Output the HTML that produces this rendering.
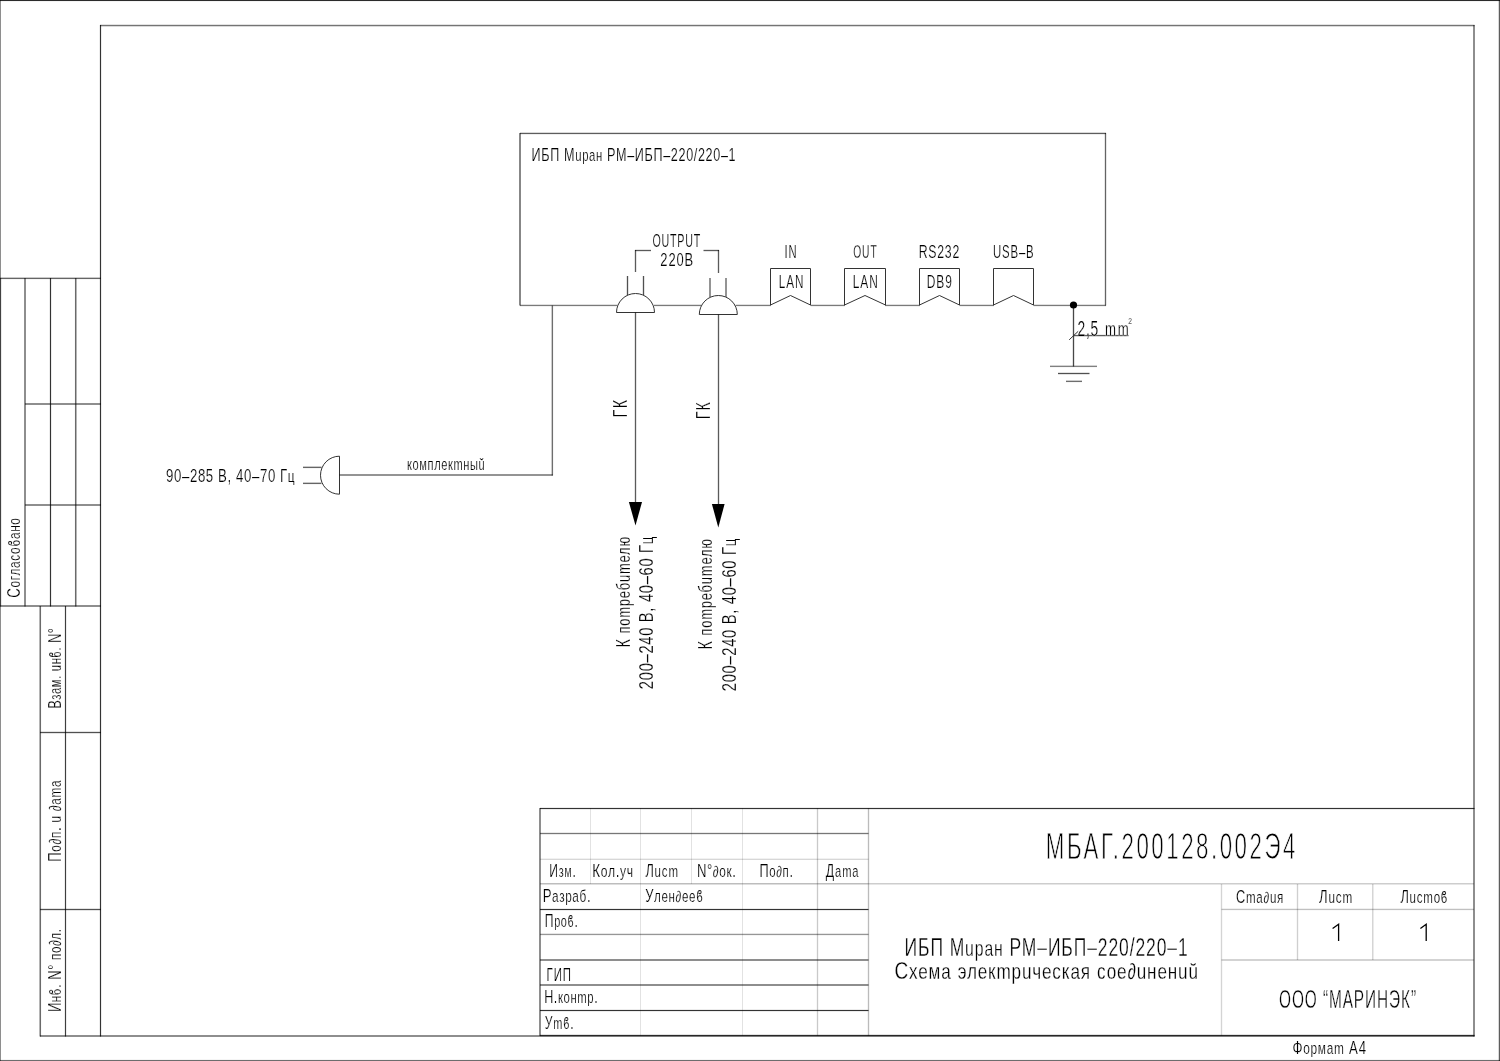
<!DOCTYPE html>
<html><head><meta charset="utf-8"><style>
html,body{margin:0;padding:0;background:#fff;}
svg{display:block;filter:grayscale(1);}
text{font-family:"Liberation Sans",sans-serif;stroke:#fff;}
</style></head><body>
<svg width="1500" height="1061" viewBox="0 0 1500 1061">
<rect x="0" y="0" width="1500" height="1061" fill="#fff"/>
<rect x="0" y="-1" width="1500" height="1" fill="#000" fill-opacity="0.044"/>
<rect x="0" y="0" width="1500" height="1" fill="#000" fill-opacity="0.832"/>
<rect x="0" y="1" width="1500" height="1" fill="#000" fill-opacity="0.044"/>
<rect x="-1" y="0" width="1" height="1061" fill="#000" fill-opacity="0.445"/>
<rect x="0" y="0" width="1" height="1061" fill="#000" fill-opacity="0.445"/>
<rect x="1498" y="0" width="1" height="1061" fill="#000" fill-opacity="0.150"/>
<rect x="1499" y="0" width="1" height="1061" fill="#000" fill-opacity="0.636"/>
<rect x="1500" y="0" width="1" height="1061" fill="#000" fill-opacity="0.065"/>
<rect x="0" y="1059" width="1500" height="1" fill="#000" fill-opacity="0.039"/>
<rect x="0" y="1060" width="1500" height="1" fill="#000" fill-opacity="0.572"/>
<rect x="0" y="1061" width="1500" height="1" fill="#000" fill-opacity="0.039"/>
<rect x="100" y="24" width="1374.5" height="1" fill="#000" fill-opacity="0.108"/>
<rect x="100" y="25" width="1374.5" height="1" fill="#000" fill-opacity="0.544"/>
<rect x="100" y="26" width="1374.5" height="1" fill="#000" fill-opacity="0.147"/>
<rect x="99" y="25" width="1" height="1011.5" fill="#000" fill-opacity="0.076"/>
<rect x="100" y="25" width="1" height="1011.5" fill="#000" fill-opacity="0.799"/>
<rect x="101" y="25" width="1" height="1011.5" fill="#000" fill-opacity="0.076"/>
<rect x="1473" y="25" width="1" height="1011.5" fill="#000" fill-opacity="0.445"/>
<rect x="1474" y="25" width="1" height="1011.5" fill="#000" fill-opacity="0.445"/>
<rect x="40" y="1035" width="1434.5" height="1" fill="#000" fill-opacity="0.445"/>
<rect x="40" y="1036" width="1434.5" height="1" fill="#000" fill-opacity="0.445"/>
<rect x="0" y="277" width="101" height="1" fill="#000" fill-opacity="0.208"/>
<rect x="0" y="278" width="101" height="1" fill="#000" fill-opacity="0.603"/>
<rect x="0" y="279" width="101" height="1" fill="#000" fill-opacity="0.038"/>
<rect x="-1" y="278" width="1" height="328.5" fill="#000" fill-opacity="0.084"/>
<rect x="0" y="278" width="1" height="328.5" fill="#000" fill-opacity="0.533"/>
<rect x="1" y="278" width="1" height="328.5" fill="#000" fill-opacity="0.084"/>
<rect x="24" y="278" width="1" height="328.5" fill="#000" fill-opacity="0.445"/>
<rect x="25" y="278" width="1" height="328.5" fill="#000" fill-opacity="0.445"/>
<rect x="49" y="278" width="1" height="328.5" fill="#000" fill-opacity="0.076"/>
<rect x="50" y="278" width="1" height="328.5" fill="#000" fill-opacity="0.799"/>
<rect x="51" y="278" width="1" height="328.5" fill="#000" fill-opacity="0.076"/>
<rect x="74" y="278" width="1" height="328.5" fill="#000" fill-opacity="0.022"/>
<rect x="75" y="278" width="1" height="328.5" fill="#000" fill-opacity="0.586"/>
<rect x="76" y="278" width="1" height="328.5" fill="#000" fill-opacity="0.291"/>
<rect x="25" y="403" width="76" height="1" fill="#000" fill-opacity="0.445"/>
<rect x="25" y="404" width="76" height="1" fill="#000" fill-opacity="0.445"/>
<rect x="25" y="504" width="76" height="1" fill="#000" fill-opacity="0.445"/>
<rect x="25" y="505" width="76" height="1" fill="#000" fill-opacity="0.445"/>
<rect x="0" y="605" width="101" height="1" fill="#000" fill-opacity="0.445"/>
<rect x="0" y="606" width="101" height="1" fill="#000" fill-opacity="0.445"/>
<rect x="39" y="606" width="1" height="430.5" fill="#000" fill-opacity="0.291"/>
<rect x="40" y="606" width="1" height="430.5" fill="#000" fill-opacity="0.586"/>
<rect x="41" y="606" width="1" height="430.5" fill="#000" fill-opacity="0.022"/>
<rect x="64" y="606" width="1" height="430.5" fill="#000" fill-opacity="0.072"/>
<rect x="65" y="606" width="1" height="430.5" fill="#000" fill-opacity="0.757"/>
<rect x="66" y="606" width="1" height="430.5" fill="#000" fill-opacity="0.072"/>
<rect x="40" y="731" width="61" height="1" fill="#000" fill-opacity="0.108"/>
<rect x="40" y="732" width="61" height="1" fill="#000" fill-opacity="0.685"/>
<rect x="40" y="733" width="61" height="1" fill="#000" fill-opacity="0.108"/>
<rect x="40" y="908" width="61" height="1" fill="#000" fill-opacity="0.108"/>
<rect x="40" y="909" width="61" height="1" fill="#000" fill-opacity="0.685"/>
<rect x="40" y="910" width="61" height="1" fill="#000" fill-opacity="0.108"/>
<text transform="translate(20,597) rotate(-90) translate(-0.67,0) scale(0.7007,1)" x="0" y="0" font-size="18.90" textLength="113.70" lengthAdjust="spacing" fill="#000" stroke-width="0.214">С<tspan font-size="17.01">огласоϐано</tspan></text>
<text transform="translate(61,707.6) rotate(-90) translate(-1.02,0) scale(0.6600,1)" x="0" y="0" font-size="18.90" textLength="121.92" lengthAdjust="spacing" fill="#000" stroke-width="0.227">В<tspan font-size="17.01">зам</tspan>. <tspan font-size="17.01">uнϐ</tspan>. N°</text>
<text transform="translate(60.5,860.7) rotate(-90) translate(-1.07,0) scale(0.6982,1)" x="0" y="0" font-size="18.90" textLength="116.54" lengthAdjust="spacing" fill="#000" stroke-width="0.215">П<tspan font-size="17.01">о∂п</tspan>. <tspan font-size="17.01">u</tspan> <tspan font-size="17.01">∂аmа</tspan></text>
<text transform="translate(61.4,1011) rotate(-90) translate(-1.06,0) scale(0.6857,1)" x="0" y="0" font-size="18.90" textLength="121.40" lengthAdjust="spacing" fill="#000" stroke-width="0.219">И<tspan font-size="17.01">нϐ</tspan>. N° <tspan font-size="17.01">по∂л</tspan>.</text>
<rect x="520" y="132" width="586" height="1" fill="#000" fill-opacity="0.150"/>
<rect x="520" y="133" width="586" height="1" fill="#000" fill-opacity="0.636"/>
<rect x="520" y="134" width="586" height="1" fill="#000" fill-opacity="0.065"/>
<rect x="519" y="133" width="1" height="172.5" fill="#000" fill-opacity="0.469"/>
<rect x="520" y="133" width="1" height="172.5" fill="#000" fill-opacity="0.469"/>
<rect x="1104" y="133" width="1" height="172.5" fill="#000" fill-opacity="0.096"/>
<rect x="1105" y="133" width="1" height="172.5" fill="#000" fill-opacity="0.609"/>
<rect x="1106" y="133" width="1" height="172.5" fill="#000" fill-opacity="0.096"/>
<rect x="520" y="304" width="97.5" height="1" fill="#000" fill-opacity="0.123"/>
<rect x="520" y="305" width="97.5" height="1" fill="#000" fill-opacity="0.523"/>
<rect x="520" y="306" width="97.5" height="1" fill="#000" fill-opacity="0.053"/>
<rect x="653.8" y="304" width="47.200000000000045" height="1" fill="#000" fill-opacity="0.123"/>
<rect x="653.8" y="305" width="47.200000000000045" height="1" fill="#000" fill-opacity="0.523"/>
<rect x="653.8" y="306" width="47.200000000000045" height="1" fill="#000" fill-opacity="0.053"/>
<rect x="735.6" y="304" width="35.39999999999998" height="1" fill="#000" fill-opacity="0.123"/>
<rect x="735.6" y="305" width="35.39999999999998" height="1" fill="#000" fill-opacity="0.523"/>
<rect x="735.6" y="306" width="35.39999999999998" height="1" fill="#000" fill-opacity="0.053"/>
<rect x="810.5" y="304" width="34.5" height="1" fill="#000" fill-opacity="0.123"/>
<rect x="810.5" y="305" width="34.5" height="1" fill="#000" fill-opacity="0.523"/>
<rect x="810.5" y="306" width="34.5" height="1" fill="#000" fill-opacity="0.053"/>
<rect x="885" y="304" width="35" height="1" fill="#000" fill-opacity="0.123"/>
<rect x="885" y="305" width="35" height="1" fill="#000" fill-opacity="0.523"/>
<rect x="885" y="306" width="35" height="1" fill="#000" fill-opacity="0.053"/>
<rect x="959.5" y="304" width="34.5" height="1" fill="#000" fill-opacity="0.123"/>
<rect x="959.5" y="305" width="34.5" height="1" fill="#000" fill-opacity="0.523"/>
<rect x="959.5" y="306" width="34.5" height="1" fill="#000" fill-opacity="0.053"/>
<rect x="1033.5" y="304" width="72.5" height="1" fill="#000" fill-opacity="0.123"/>
<rect x="1033.5" y="305" width="72.5" height="1" fill="#000" fill-opacity="0.523"/>
<rect x="1033.5" y="306" width="72.5" height="1" fill="#000" fill-opacity="0.053"/>
<text transform="translate(531.57,161.4) scale(0.6666,1)" x="0" y="0" font-size="18.90" textLength="306.10" lengthAdjust="spacing" fill="#000" stroke-width="0.225">ИБП М<tspan font-size="17.01">uран</tspan> РМ–ИБП–220/220–1</text>
<rect x="626" y="276" width="1" height="19" fill="#000" fill-opacity="0.108"/>
<rect x="627" y="276" width="1" height="19" fill="#000" fill-opacity="0.685"/>
<rect x="628" y="276" width="1" height="19" fill="#000" fill-opacity="0.108"/>
<rect x="642" y="276" width="1" height="19" fill="#000" fill-opacity="0.108"/>
<rect x="643" y="276" width="1" height="19" fill="#000" fill-opacity="0.685"/>
<rect x="644" y="276" width="1" height="19" fill="#000" fill-opacity="0.108"/>
<path d="M616.5 312.5 A19 19 0 0 1 654.5 312.5 Z" stroke="#333" stroke-width="1" fill="#fff"/>
<rect x="634" y="312.5" width="1" height="190.5" fill="#000" fill-opacity="0.102"/>
<rect x="635" y="312.5" width="1" height="190.5" fill="#000" fill-opacity="0.647"/>
<rect x="636" y="312.5" width="1" height="190.5" fill="#000" fill-opacity="0.102"/>
<rect x="709" y="278" width="1" height="19" fill="#000" fill-opacity="0.420"/>
<rect x="710" y="278" width="1" height="19" fill="#000" fill-opacity="0.420"/>
<rect x="725" y="278" width="1" height="19" fill="#000" fill-opacity="0.420"/>
<rect x="726" y="278" width="1" height="19" fill="#000" fill-opacity="0.420"/>
<path d="M699.3 314.5 A19 19 0 0 1 737.3 314.5 Z" stroke="#333" stroke-width="1" fill="#fff"/>
<rect x="717" y="314.5" width="1" height="190.5" fill="#000" fill-opacity="0.102"/>
<rect x="718" y="314.5" width="1" height="190.5" fill="#000" fill-opacity="0.647"/>
<rect x="719" y="314.5" width="1" height="190.5" fill="#000" fill-opacity="0.102"/>
<rect x="635" y="249" width="16" height="1" fill="#000" fill-opacity="0.102"/>
<rect x="635" y="250" width="16" height="1" fill="#000" fill-opacity="0.647"/>
<rect x="635" y="251" width="16" height="1" fill="#000" fill-opacity="0.102"/>
<rect x="634" y="250" width="1" height="22" fill="#000" fill-opacity="0.102"/>
<rect x="635" y="250" width="1" height="22" fill="#000" fill-opacity="0.647"/>
<rect x="636" y="250" width="1" height="22" fill="#000" fill-opacity="0.102"/>
<rect x="703.5" y="249" width="15.5" height="1" fill="#000" fill-opacity="0.102"/>
<rect x="703.5" y="250" width="15.5" height="1" fill="#000" fill-opacity="0.647"/>
<rect x="703.5" y="251" width="15.5" height="1" fill="#000" fill-opacity="0.102"/>
<rect x="717" y="250" width="1" height="23" fill="#000" fill-opacity="0.102"/>
<rect x="718" y="250" width="1" height="23" fill="#000" fill-opacity="0.647"/>
<rect x="719" y="250" width="1" height="23" fill="#000" fill-opacity="0.102"/>
<text transform="translate(652.49,246.8) scale(0.6136,1)" x="0" y="0" font-size="17.44" textLength="77.83" lengthAdjust="spacing" fill="#000" stroke-width="0.244">OUTPUT</text>
<text transform="translate(660.35,266.0) scale(0.7419,1)" x="0" y="0" font-size="17.44" textLength="44.12" lengthAdjust="spacing" fill="#000" stroke-width="0.202">220В</text>
<polygon points="628.9,502 642,502 635.5,525.5" fill="#000"/>
<polygon points="711.9,504 724.6,504 718.3,527.5" fill="#000"/>
<path d="M770.5 305 L770.5 268.5 L810.5 268.5 L810.5 305 L790.5 295.5 Z" stroke="#333" stroke-width="1" fill="none"/>
<path d="M844.5 305 L844.5 268.5 L885.5 268.5 L885.5 305 L865.0 295.5 Z" stroke="#333" stroke-width="1" fill="none"/>
<path d="M919.5 305 L919.5 268.5 L959.5 268.5 L959.5 305 L939.5 295.5 Z" stroke="#333" stroke-width="1" fill="none"/>
<path d="M993.5 305 L993.5 268.5 L1033.5 268.5 L1033.5 305 L1013.5 295.5 Z" stroke="#333" stroke-width="1" fill="none"/>
<text transform="translate(784.56,258.09999999999997) scale(0.6448,1)" x="0" y="0" font-size="17.44" textLength="18.69" lengthAdjust="spacing" fill="#000" stroke-width="0.233">IN</text>
<text transform="translate(853.22,258.09999999999997) scale(0.5868,1)" x="0" y="0" font-size="17.44" textLength="39.91" lengthAdjust="spacing" fill="#000" stroke-width="0.256">OUT</text>
<text transform="translate(918.69,258.09999999999997) scale(0.7032,1)" x="0" y="0" font-size="17.44" textLength="57.77" lengthAdjust="spacing" fill="#000" stroke-width="0.213">RS232</text>
<text transform="translate(993.12,258.4) scale(0.6532,1)" x="0" y="0" font-size="17.44" textLength="61.97" lengthAdjust="spacing" fill="#000" stroke-width="0.230">USB–B</text>
<text transform="translate(778.74,288.09999999999997) scale(0.6720,1)" x="0" y="0" font-size="17.44" textLength="36.63" lengthAdjust="spacing" fill="#000" stroke-width="0.223">LAN</text>
<text transform="translate(852.72,288.09999999999997) scale(0.6839,1)" x="0" y="0" font-size="17.44" textLength="36.63" lengthAdjust="spacing" fill="#000" stroke-width="0.219">LAN</text>
<text transform="translate(926.72,288.09999999999997) scale(0.6855,1)" x="0" y="0" font-size="17.44" textLength="36.68" lengthAdjust="spacing" fill="#000" stroke-width="0.219">DB9</text>
<circle cx="1073.5" cy="305" r="3.6" fill="#000"/>
<rect x="1072" y="305" width="1" height="61.5" fill="#000" fill-opacity="0.114"/>
<rect x="1073" y="305" width="1" height="61.5" fill="#000" fill-opacity="0.723"/>
<rect x="1074" y="305" width="1" height="61.5" fill="#000" fill-opacity="0.114"/>
<rect x="1050" y="365" width="47" height="1" fill="#000" fill-opacity="0.171"/>
<rect x="1050" y="366" width="47" height="1" fill="#000" fill-opacity="0.497"/>
<rect x="1050" y="367" width="47" height="1" fill="#000" fill-opacity="0.032"/>
<rect x="1058" y="372" width="31.5" height="1" fill="#000" fill-opacity="0.108"/>
<rect x="1058" y="373" width="31.5" height="1" fill="#000" fill-opacity="0.685"/>
<rect x="1058" y="374" width="31.5" height="1" fill="#000" fill-opacity="0.108"/>
<rect x="1066" y="380" width="16" height="1" fill="#000" fill-opacity="0.196"/>
<rect x="1066" y="381" width="16" height="1" fill="#000" fill-opacity="0.568"/>
<rect x="1066" y="382" width="16" height="1" fill="#000" fill-opacity="0.036"/>
<rect x="1073.5" y="334" width="55.0" height="1" fill="#000" fill-opacity="0.065"/>
<rect x="1073.5" y="335" width="55.0" height="1" fill="#000" fill-opacity="0.636"/>
<rect x="1073.5" y="336" width="55.0" height="1" fill="#000" fill-opacity="0.150"/>
<line x1="1069.2" y1="339.8" x2="1078.2" y2="331.3" stroke="#333" stroke-width="1"/>
<text transform="translate(1077.50,335.9) scale(0.6340,1)" x="0" y="0" font-size="21.80" textLength="32.77" lengthAdjust="spacing" fill="#000" stroke-width="0.237">2,5</text>
<text transform="translate(1105.12,335.9) scale(0.6509,1)" x="0" y="0" font-size="22.53" textLength="36.48" lengthAdjust="spacing" fill="#000" stroke-width="0.251"><tspan font-size="20.28">mm</tspan></text>
<text transform="translate(1128.26,324.09999999999997) scale(0.7642,1)" x="0" y="0" font-size="8.72" textLength="5.20" lengthAdjust="spacing" fill="#000" stroke-width="0.196">2</text>
<path d="M339.5 456.2 A19 19 0 0 0 339.5 494.2 Z" stroke="#333" stroke-width="1" fill="#fff"/>
<rect x="303" y="466" width="18.5" height="1" fill="#000" fill-opacity="0.208"/>
<rect x="303" y="467" width="18.5" height="1" fill="#000" fill-opacity="0.603"/>
<rect x="303" y="468" width="18.5" height="1" fill="#000" fill-opacity="0.038"/>
<rect x="303" y="482" width="18.5" height="1" fill="#000" fill-opacity="0.208"/>
<rect x="303" y="483" width="18.5" height="1" fill="#000" fill-opacity="0.603"/>
<rect x="303" y="484" width="18.5" height="1" fill="#000" fill-opacity="0.038"/>
<rect x="339.5" y="474" width="213.29999999999995" height="1" fill="#000" fill-opacity="0.420"/>
<rect x="339.5" y="475" width="213.29999999999995" height="1" fill="#000" fill-opacity="0.420"/>
<rect x="551" y="305.5" width="1" height="170.0" fill="#000" fill-opacity="0.196"/>
<rect x="552" y="305.5" width="1" height="170.0" fill="#000" fill-opacity="0.568"/>
<rect x="553" y="305.5" width="1" height="170.0" fill="#000" fill-opacity="0.036"/>
<text transform="translate(166.08,482.4) scale(0.6998,1)" x="0" y="0" font-size="18.90" textLength="183.77" lengthAdjust="spacing" fill="#000" stroke-width="0.214">90–285 В, 40–70 Г<tspan font-size="17.01">ц</tspan></text>
<text transform="translate(407.05,469.9) scale(0.6516,1)" x="0" y="0" font-size="18.90" textLength="119.21" lengthAdjust="spacing" fill="#000" stroke-width="0.230"><tspan font-size="17.01">комплекmныŭ</tspan></text>
<text transform="translate(627,416.2) rotate(-90) translate(-1.18,0) scale(0.7069,1)" x="0" y="0" font-size="20.35" textLength="24.71" lengthAdjust="spacing" fill="#000" stroke-width="0.212">ГК</text>
<text transform="translate(709.5,418.2) rotate(-90) translate(-1.16,0) scale(0.6938,1)" x="0" y="0" font-size="20.35" textLength="24.71" lengthAdjust="spacing" fill="#000" stroke-width="0.216">ГК</text>
<text transform="translate(629.8,646.3) rotate(-90) translate(-1.18,0) scale(0.6844,1)" x="0" y="0" font-size="21.08" textLength="161.64" lengthAdjust="spacing" fill="#000" stroke-width="0.219">К <tspan font-size="18.97">поmребumелю</tspan></text>
<text transform="translate(652.9,688.4) rotate(-90) translate(-0.74,0) scale(0.7007,1)" x="0" y="0" font-size="21.08" textLength="217.71" lengthAdjust="spacing" fill="#000" stroke-width="0.214">200–240 В, 40–60 Г<tspan font-size="18.97">ц</tspan></text>
<text transform="translate(712.3,648.4) rotate(-90) translate(-1.18,0) scale(0.6844,1)" x="0" y="0" font-size="21.08" textLength="161.64" lengthAdjust="spacing" fill="#000" stroke-width="0.219">К <tspan font-size="18.97">поmребumелю</tspan></text>
<text transform="translate(735.9,690.5) rotate(-90) translate(-0.74,0) scale(0.7007,1)" x="0" y="0" font-size="21.08" textLength="217.71" lengthAdjust="spacing" fill="#000" stroke-width="0.214">200–240 В, 40–60 Г<tspan font-size="18.97">ц</tspan></text>
<rect x="540" y="807" width="934.5" height="1" fill="#000" fill-opacity="0.076"/>
<rect x="540" y="808" width="934.5" height="1" fill="#000" fill-opacity="0.799"/>
<rect x="540" y="809" width="934.5" height="1" fill="#000" fill-opacity="0.076"/>
<rect x="539" y="808" width="1" height="228" fill="#000" fill-opacity="0.445"/>
<rect x="540" y="808" width="1" height="228" fill="#000" fill-opacity="0.445"/>
<rect x="867" y="808" width="1" height="228" fill="#000" fill-opacity="0.042"/>
<rect x="868" y="808" width="1" height="228" fill="#000" fill-opacity="0.266"/>
<rect x="869" y="808" width="1" height="228" fill="#000" fill-opacity="0.042"/>
<rect x="590" y="808" width="1" height="76" fill="#000" fill-opacity="0.114"/>
<rect x="640" y="808" width="1" height="228" fill="#000" fill-opacity="0.114"/>
<rect x="691" y="808" width="1" height="76" fill="#000" fill-opacity="0.114"/>
<rect x="742" y="808" width="1" height="228" fill="#000" fill-opacity="0.114"/>
<rect x="816" y="808" width="1" height="228" fill="#000" fill-opacity="0.033"/>
<rect x="817" y="808" width="1" height="228" fill="#000" fill-opacity="0.213"/>
<rect x="818" y="808" width="1" height="228" fill="#000" fill-opacity="0.033"/>
<rect x="540" y="832" width="328.5" height="1" fill="#000" fill-opacity="0.084"/>
<rect x="540" y="833" width="328.5" height="1" fill="#000" fill-opacity="0.533"/>
<rect x="540" y="834" width="328.5" height="1" fill="#000" fill-opacity="0.084"/>
<rect x="540" y="858" width="328.5" height="1" fill="#000" fill-opacity="0.054"/>
<rect x="540" y="859" width="328.5" height="1" fill="#000" fill-opacity="0.156"/>
<rect x="540" y="883" width="328.5" height="1" fill="#000" fill-opacity="0.260"/>
<rect x="540" y="884" width="328.5" height="1" fill="#000" fill-opacity="0.129"/>
<rect x="868.5" y="883" width="605.5" height="1" fill="#000" fill-opacity="0.195"/>
<rect x="868.5" y="884" width="605.5" height="1" fill="#000" fill-opacity="0.097"/>
<rect x="540" y="908" width="328.5" height="1" fill="#000" fill-opacity="0.076"/>
<rect x="540" y="909" width="328.5" height="1" fill="#000" fill-opacity="0.799"/>
<rect x="540" y="910" width="328.5" height="1" fill="#000" fill-opacity="0.076"/>
<rect x="540" y="933" width="328.5" height="1" fill="#000" fill-opacity="0.097"/>
<rect x="540" y="934" width="328.5" height="1" fill="#000" fill-opacity="0.411"/>
<rect x="540" y="935" width="328.5" height="1" fill="#000" fill-opacity="0.042"/>
<rect x="540" y="959" width="328.5" height="1" fill="#000" fill-opacity="0.445"/>
<rect x="540" y="960" width="328.5" height="1" fill="#000" fill-opacity="0.445"/>
<rect x="540" y="984" width="328.5" height="1" fill="#000" fill-opacity="0.445"/>
<rect x="540" y="985" width="328.5" height="1" fill="#000" fill-opacity="0.445"/>
<rect x="540" y="1009" width="328.5" height="1" fill="#000" fill-opacity="0.076"/>
<rect x="540" y="1010" width="328.5" height="1" fill="#000" fill-opacity="0.799"/>
<rect x="540" y="1011" width="328.5" height="1" fill="#000" fill-opacity="0.076"/>
<rect x="540" y="1034" width="934.5" height="1" fill="#000" fill-opacity="0.114"/>
<rect x="540" y="1035" width="934.5" height="1" fill="#000" fill-opacity="0.723"/>
<rect x="540" y="1036" width="934.5" height="1" fill="#000" fill-opacity="0.114"/>
<rect x="1220" y="884" width="1" height="152" fill="#000" fill-opacity="0.026"/>
<rect x="1221" y="884" width="1" height="152" fill="#000" fill-opacity="0.167"/>
<rect x="1222" y="884" width="1" height="152" fill="#000" fill-opacity="0.026"/>
<rect x="1221.5" y="908" width="252.5" height="1" fill="#000" fill-opacity="0.058"/>
<rect x="1221.5" y="909" width="252.5" height="1" fill="#000" fill-opacity="0.247"/>
<rect x="1221.5" y="910" width="252.5" height="1" fill="#000" fill-opacity="0.025"/>
<rect x="1221.5" y="959" width="252.5" height="1" fill="#000" fill-opacity="0.173"/>
<rect x="1221.5" y="960" width="252.5" height="1" fill="#000" fill-opacity="0.173"/>
<rect x="1296" y="884" width="1" height="76" fill="#000" fill-opacity="0.030"/>
<rect x="1297" y="884" width="1" height="76" fill="#000" fill-opacity="0.190"/>
<rect x="1298" y="884" width="1" height="76" fill="#000" fill-opacity="0.030"/>
<rect x="1372" y="884" width="1" height="76" fill="#000" fill-opacity="0.163"/>
<rect x="1373" y="884" width="1" height="76" fill="#000" fill-opacity="0.081"/>
<text transform="translate(549.31,877.1999999999999) scale(0.6939,1)" x="0" y="0" font-size="17.44" textLength="38.18" lengthAdjust="spacing" fill="#000" stroke-width="0.216">И<tspan font-size="15.70">зм</tspan>.</text>
<text transform="translate(592.30,877.1999999999999) scale(0.7714,1)" x="0" y="0" font-size="17.44" textLength="52.96" lengthAdjust="spacing" fill="#000" stroke-width="0.194">К<tspan font-size="15.70">ол</tspan>.<tspan font-size="15.70">уч</tspan></text>
<text transform="translate(645.39,877.1999999999999) scale(0.7330,1)" x="0" y="0" font-size="17.44" textLength="44.57" lengthAdjust="spacing" fill="#000" stroke-width="0.205">Л<tspan font-size="15.70">uсm</tspan></text>
<text transform="translate(696.92,877.1999999999999) scale(0.7525,1)" x="0" y="0" font-size="17.44" textLength="51.66" lengthAdjust="spacing" fill="#000" stroke-width="0.199">N°<tspan font-size="15.70">∂ок</tspan>.</text>
<text transform="translate(759.47,877.1999999999999) scale(0.7315,1)" x="0" y="0" font-size="17.44" textLength="45.79" lengthAdjust="spacing" fill="#000" stroke-width="0.205">П<tspan font-size="15.70">о∂п</tspan>.</text>
<text transform="translate(825.81,877.1999999999999) scale(0.7103,1)" x="0" y="0" font-size="17.44" textLength="46.02" lengthAdjust="spacing" fill="#000" stroke-width="0.211">Д<tspan font-size="15.70">аmа</tspan></text>
<text transform="translate(542.72,902.4) scale(0.7514,1)" x="0" y="0" font-size="17.44" textLength="63.71" lengthAdjust="spacing" fill="#000" stroke-width="0.200">Р<tspan font-size="15.70">азраб</tspan>.</text>
<text transform="translate(645.15,902.4) scale(0.7399,1)" x="0" y="0" font-size="17.44" textLength="78.02" lengthAdjust="spacing" fill="#000" stroke-width="0.203">У<tspan font-size="15.70">лен∂ееϐ</tspan></text>
<text transform="translate(544.82,927.4) scale(0.6956,1)" x="0" y="0" font-size="17.44" textLength="47.43" lengthAdjust="spacing" fill="#000" stroke-width="0.216">П<tspan font-size="15.70">роϐ</tspan>.</text>
<text transform="translate(546.56,980.5) scale(0.6558,1)" x="0" y="0" font-size="17.44" textLength="37.27" lengthAdjust="spacing" fill="#000" stroke-width="0.229">ГИП</text>
<text transform="translate(544.17,1003.4) scale(0.7223,1)" x="0" y="0" font-size="17.44" textLength="74.04" lengthAdjust="spacing" fill="#000" stroke-width="0.208">Н.<tspan font-size="15.70">конmр</tspan>.</text>
<text transform="translate(544.87,1029.1000000000001) scale(0.6982,1)" x="0" y="0" font-size="17.44" textLength="41.16" lengthAdjust="spacing" fill="#000" stroke-width="0.215">У<tspan font-size="15.70">mϐ</tspan>.</text>
<text transform="translate(1045.87,859.0) scale(0.6132,1)" x="0" y="0" font-size="36.34" textLength="406.85" lengthAdjust="spacing" fill="#000" stroke-width="0.829">МБАГ.200128.002Э4</text>
<text transform="translate(904.57,956.1999999999999) scale(0.6992,1)" x="0" y="0" font-size="25.00" textLength="404.99" lengthAdjust="spacing" fill="#000" stroke-width="0.322">ИБП М<tspan font-size="22.50">uран</tspan> РМ–ИБП–220/220–1</text>
<text transform="translate(894.43,978.9) scale(0.7708,1)" x="0" y="0" font-size="24.71" textLength="393.77" lengthAdjust="spacing" fill="#000" stroke-width="0.282">С<tspan font-size="22.24">хема</tspan> <tspan font-size="22.24">элекmрuческая</tspan> <tspan font-size="22.24">сое∂uненuŭ</tspan></text>
<text transform="translate(1235.95,902.8) scale(0.7355,1)" x="0" y="0" font-size="17.44" textLength="64.38" lengthAdjust="spacing" fill="#000" stroke-width="0.204">С<tspan font-size="15.70">mа∂uя</tspan></text>
<text transform="translate(1319.09,902.8) scale(0.7468,1)" x="0" y="0" font-size="17.44" textLength="44.57" lengthAdjust="spacing" fill="#000" stroke-width="0.201">Л<tspan font-size="15.70">uсm</tspan></text>
<text transform="translate(1400.39,902.8) scale(0.7370,1)" x="0" y="0" font-size="17.44" textLength="63.89" lengthAdjust="spacing" fill="#000" stroke-width="0.204">Л<tspan font-size="15.70">uсmоϐ</tspan></text>
<path d="M1332.6 928.5 L1338.6 924.3 L1338.6 941" stroke="#000" stroke-width="1.3" fill="none"/>
<path d="M1420.4 928.5 L1426.2 924.3 L1426.2 941" stroke="#000" stroke-width="1.3" fill="none"/>
<text transform="translate(1279.07,1007.6) scale(0.5889,1)" x="0" y="0" font-size="26.16" textLength="232.62" lengthAdjust="spacing" fill="#000" stroke-width="0.431">ООО “МАРИНЭК”</text>
<text transform="translate(1292.44,1054.4) scale(0.7571,1)" x="0" y="0" font-size="17.44" textLength="97.15" lengthAdjust="spacing" fill="#000" stroke-width="0.198">Ф<tspan font-size="15.70">ормаm</tspan> А4</text>
</svg>
</body></html>
